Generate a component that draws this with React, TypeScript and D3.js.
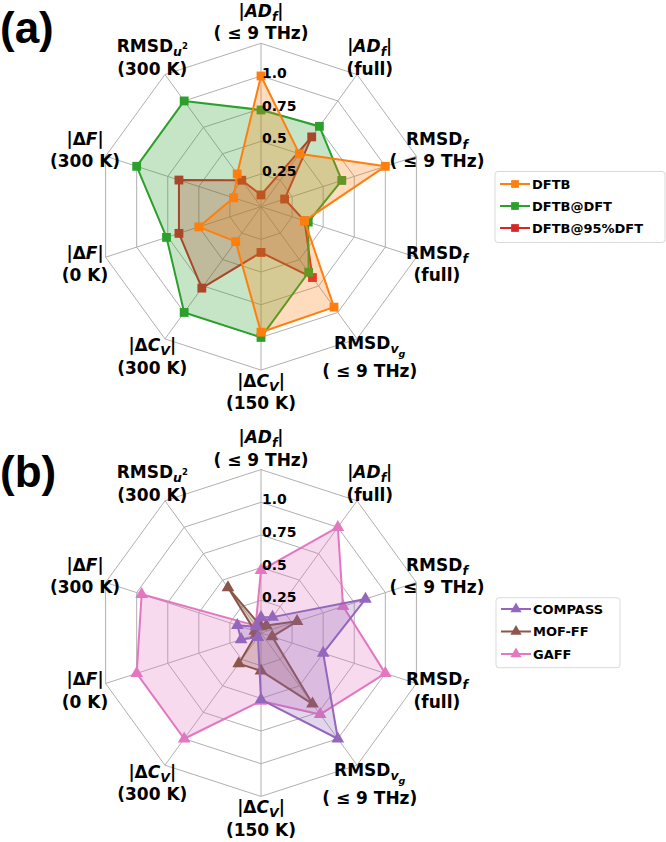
import React from 'react';
import * as d3 from 'd3';

// ---- data ----
const categoriesLine2 = ['( \u2264 9 THz)', '(full)', '( \u2264 9 THz)', '(full)', '( \u2264 9 THz)', '(150 K)', '(300 K)', '(0 K)', '(300 K)', '(300 K)'];
type Seg = { t: string; i?: boolean; sub?: number; sup?: boolean };
const categoriesLine1: Seg[][] = [
  [{ t: '|' }, { t: 'AD', i: true }, { t: 'f', i: true, sub: 1 }, { t: '|' }],
  [{ t: '|' }, { t: 'AD', i: true }, { t: 'f', i: true, sub: 1 }, { t: '|' }],
  [{ t: 'RMSD' }, { t: 'f', i: true, sub: 1 }],
  [{ t: 'RMSD' }, { t: 'f', i: true, sub: 1 }],
  [{ t: 'RMSD' }, { t: 'v', i: true, sub: 1 }, { t: 'g', i: true, sub: 2 }],
  [{ t: '|\u0394' }, { t: 'C', i: true }, { t: 'V', i: true, sub: 1 }, { t: '|' }],
  [{ t: '|\u0394' }, { t: 'C', i: true }, { t: 'V', i: true, sub: 1 }, { t: '|' }],
  [{ t: '|\u0394' }, { t: 'F', i: true }, { t: '|' }],
  [{ t: '|\u0394' }, { t: 'F', i: true }, { t: '|' }],
  [{ t: 'RMSD' }, { t: 'u', i: true, sub: 1 }, { t: '2', sup: true }],
];
const radialTicks = [0.25, 0.5, 0.75, 1.0];
const gridLevels = [0.25, 0.5, 0.75, 1.0, 1.25];
const tickLabels = ['0.25', '0.5', '0.75', '1.0'];

const seriesNamesA = ['DFTB', 'DFTB@DFT', 'DFTB@95%DFT'];
const dftb = [1.0, 0.5, 1.0, 0.35, 0.95, 0.96, 0.33, 0.5, 0.22, 0.31];
const dftbAtDft = [0.74, 0.76, 0.65, 0.38, 0.62, 1.0, 1.0, 0.76, 1.0, 1.0];
const dftbAt95Dft = [0.09, 0.66, 0.19, 0.35, 0.67, 0.35, 0.77, 0.66, 0.66, 0.25];

const seriesNamesB = ['COMPASS', 'MOF-FF', 'GAFF'];
const compass = [0.12, 0.15, 0.84, 0.5, 1.0, 0.51, 0.04, 0.16, 0.19, 0.06];
const moff = [0.05, 0.07, 0.29, 0.09, 0.67, 0.29, 0.29, 0.04, 0.05, 0.43];
const gaff = [0.48, 1.0, 0.66, 1.0, 0.77, 0.52, 1.0, 1.0, 0.96, 0.07];

const colorsA = ['#ff7f0e', '#2ca02c', '#d62728'];
const colorsB = ['#9467bd', '#8c564b', '#e377c2'];

// ---- layout ----
const W = 666;
const H = 842;
const CX = 261;
const CY_A = 206.7;
const CY_B = 633;
const RMAX = 163.4;
const LABEL_R = 185;
const FONT = 'DejaVu Sans';

const rScale = d3.scaleLinear().domain([0, 1.25]).range([0, RMAX]);
const angle = d3.scaleLinear().domain([0, 10]).range([0, 2 * Math.PI]);

const radial = d3
  .lineRadial<number>()
  .angle((_, i) => angle(i))
  .radius((d) => rScale(d))
  .curve(d3.curveLinearClosed);

const pt = (v: number, i: number) => {
  const a = angle(i);
  const r = rScale(v);
  return [r * Math.sin(a), -r * Math.cos(a)];
};

function LabelLine({ segs, x, y }: { segs: Seg[]; x: number; y: number }) {
  let cur = 0;
  const out: any[] = [];
  segs.forEach((s, k) => {
    let target = 0;
    let size = 17;
    if (s.sub === 1) { target = 4; size = 12.5; }
    if (s.sub === 2) { target = 8; size = 9.5; }
    if (s.sup) { target = -3; size = 8.5; }
    const dy = target - cur;
    cur = target;
    out.push(
      <tspan key={k} dy={dy} fontSize={size} fontStyle={s.i ? 'italic' : 'normal'}>
        {s.t}
      </tspan>
    );
  });
  return (
    <text x={x} y={y} textAnchor="middle" fontFamily={FONT} fontWeight="bold" fontSize={17} fill="#000">
      {out}
    </text>
  );
}

function Radar({ cy, series, colors, marker }: { cy: number; series: number[][]; colors: string[]; marker: 'square' | 'triangle' }) {
  const sym = d3
    .symbol()
    .type(marker === 'square' ? d3.symbolSquare : d3.symbolTriangle)
    .size(marker === 'square' ? 78 : 70)();
  const order = series.map((_, i) => i).reverse();
  return (
    <g transform={`translate(${CX},${cy})`}>
      {gridLevels.map((lv) => (
        <path key={lv} d={radial(d3.range(10).map(() => lv)) || ''} fill="none" stroke="#b0b0b0" strokeWidth={1} />
      ))}
      {d3.range(10).map((i) => {
        const [x, y] = pt(1.25, i);
        return <line key={i} x1={0} y1={0} x2={x} y2={y} stroke="#b0b0b0" strokeWidth={1} />;
      })}
      {order.map((si) => (
        <g key={si}>
          <path d={radial(series[si]) || ''} fill="none" stroke={colors[si]} strokeWidth={2} strokeLinejoin="round" />
          {series[si].map((v, i) => {
            const [x, y] = pt(v, i);
            return <path key={i} d={sym || ''} transform={`translate(${x},${y})`} fill={colors[si]} />;
          })}
          <path d={radial(series[si]) || ''} fill={colors[si]} fillOpacity={0.27} stroke="none" />
        </g>
      ))}
      {radialTicks.map((t, k) => (
        <text key={t} x={1} y={-rScale(t) + 2} fontFamily={FONT} fontWeight="bold" fontSize={14} fill="#000">
          {tickLabels[k]}
        </text>
      ))}
      {d3.range(10).map((i) => {
        const a = angle(i);
        const lx = LABEL_R * Math.sin(a);
        const ly = -LABEL_R * Math.cos(a);
        const o1 = i === 4 ? -13 : -11;
        const o2 = i === 4 ? 15 : 11.5;
        return (
          <g key={i}>
            <LabelLine segs={categoriesLine1[i]} x={lx} y={ly + o1 + 6} />
            <text x={lx} y={ly + o2 + 6} textAnchor="middle" fontFamily={FONT} fontWeight="bold" fontSize={17} fill="#000">
              {categoriesLine2[i]}
            </text>
          </g>
        );
      })}
    </g>
  );
}

function Legend({ x, y, w, h, rows, names, colors, marker }: { x: number; y: number; w: number; h: number; rows: number[]; names: string[]; colors: string[]; marker: 'square' | 'triangle' }) {
  const sym = d3
    .symbol()
    .type(marker === 'square' ? d3.symbolSquare : d3.symbolTriangle)
    .size(marker === 'square' ? 60 : 55)();
  return (
    <g>
      <rect x={x} y={y} width={w} height={h} rx={3} fill="#fff" fillOpacity={0.8} stroke="#d9d9d9" strokeWidth={1} />
      {names.map((n, k) => (
        <g key={n}>
          <line x1={x + 5} x2={x + 35} y1={rows[k]} y2={rows[k]} stroke={colors[k]} strokeWidth={2} />
          <path d={sym || ''} transform={`translate(${x + 20},${rows[k]})`} fill={colors[k]} />
          <text x={x + 37} y={rows[k] + 4.7} fontFamily={FONT} fontWeight="bold" fontSize={13} fill="#000">
            {n}
          </text>
        </g>
      ))}
    </g>
  );
}

export default function App() {
  return (
    <svg width={W} height={H} viewBox={`0 0 ${W} ${H}`} style={{ position: 'absolute', left: 0, top: 0, background: '#fff' }}>
      <rect width={W} height={H} fill="#fff" />
      <text x={0} y={43} fontFamily="Liberation Sans" fontWeight="bold" fontSize={44}>(a)</text>
      <text x={0} y={487} fontFamily="Liberation Sans" fontWeight="bold" fontSize={44}>(b)</text>
      <Radar cy={CY_A} series={[dftb, dftbAtDft, dftbAt95Dft]} colors={colorsA} marker="square" />
      <Radar cy={CY_B} series={[compass, moff, gaff]} colors={colorsB} marker="triangle" />
      <Legend x={495} y={171.5} w={170} h={71} rows={[184, 206, 228]} names={seriesNamesA} colors={colorsA} marker="square" />
      <Legend x={496} y={597.7} w={124} h={70} rows={[609, 631.5, 654]} names={seriesNamesB} colors={colorsB} marker="triangle" />
    </svg>
  );
}
